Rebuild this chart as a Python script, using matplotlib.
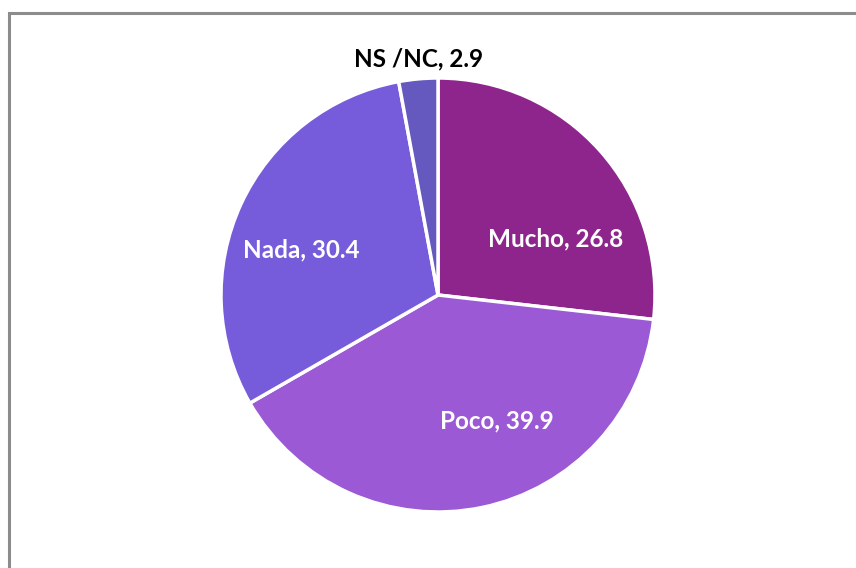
import matplotlib.pyplot as plt
from matplotlib.patches import Rectangle

labels = ['Mucho', 'Poco', 'Nada', 'NS /NC']
values = [26.8, 39.9, 30.4, 2.9]
colors = ['#8E258C', '#9B59D6', '#765CDB', '#6558BE']

# label anchor points (pie data coords, radius 1) and text colours
label_pos = [(0.54, 0.26), (0.27, -0.58), (-0.63, 0.21), (-0.09, 1.09)]
label_col = ['white', 'white', 'white', 'black']

fig = plt.figure(figsize=(8.56, 5.68), dpi=100)

# frame around the chart area (right and bottom run off the canvas)
fig.patches.append(Rectangle((8.5 / 856, -0.1), 1.0, 1 - 12.5 / 568 + 0.1,
                             transform=fig.transFigure, fill=False,
                             edgecolor='#8c8c8c', linewidth=2.2))

cx, cy, r = 438 / 856, 1 - 295 / 568, 217
w, h = 2 * r / 856, 2 * r / 568
ax = fig.add_axes([cx - w / 2, cy - h / 2, w, h])

ax.pie(values, colors=colors, startangle=90, counterclock=False,
       radius=1.0, wedgeprops=dict(edgecolor='white', linewidth=2.5))
ax.set_xlim(-1, 1)
ax.set_ylim(-1, 1)
ax.set_aspect('equal')
ax.axis('off')

for name, v, (x, y), c in zip(labels, values, label_pos, label_col):
    ax.text(x, y, f'{name}, {v}', ha='center', va='center', color=c,
            fontsize=17.5, fontweight='bold', family=['Lato', 'DejaVu Sans'],
            clip_on=False)

fig.savefig('out.png', dpi=100)
